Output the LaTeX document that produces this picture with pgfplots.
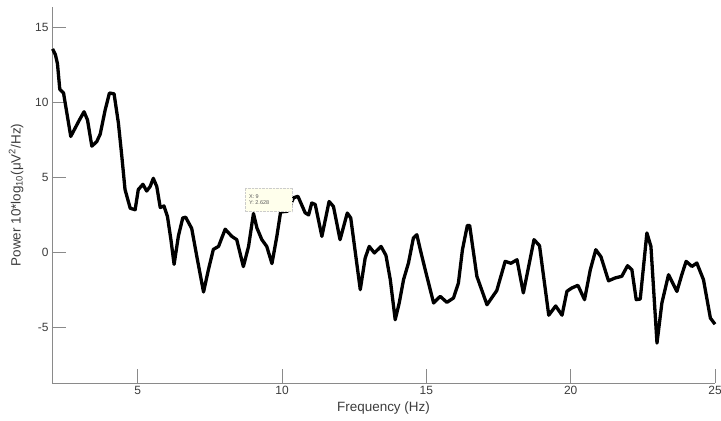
\documentclass[border=0pt]{standalone}
\usepackage{pgfplots}
\pgfplotsset{compat=1.18}
\usepackage{fontspec}
\setmainfont{Liberation Sans}
\definecolor{axgray}{HTML}{8A8A8A}
\definecolor{txtgray}{HTML}{3C3C3C}
\definecolor{tipfill}{HTML}{FFFFEC}

\begin{document}
\begin{tikzpicture}
\useasboundingbox (-52bp,-38bp) rectangle (669bp,383bp);
\begin{axis}[
    scale only axis,
    width=663bp,
    height=376bp,
    xmin=2.03, xmax=25,
    ymin=-8.73, ymax=16.4,
    axis x line*=bottom,
    axis y line*=left,
    axis line style={axgray, line width=0.9pt, -},
    tick style={axgray, line width=0.9pt},
    tick align=inside,
    major tick length=14bp,
    xtick={5,10,15,20,25},
    ytick={-5,0,5,10,15},
    ticklabel style={font=\fontsize{12}{12}\selectfont, text=txtgray},
    /pgf/number format/assume math mode=true,
    xlabel={Frequency (Hz)},
    ylabel={Power 10*log\textsubscript{10}(μV\textsuperscript{2}/Hz)},
    label style={font=\fontsize{13.5}{14}\selectfont, text=txtgray},
    xlabel style={yshift=0bp},
    ylabel style={yshift=5bp},
    clip=false,
]
\addplot[black, line width=3.3bp, line join=round] coordinates {
(2.05,13.6) (2.15,13.2) (2.22,12.6) (2.30,10.9) (2.43,10.65) (2.52,9.6)
(2.68,7.75) (2.83,8.3) (2.98,8.85) (3.14,9.4) (3.26,8.85) (3.41,7.1)
(3.58,7.4) (3.70,7.9) (3.87,9.5) (4.02,10.65) (4.18,10.6) (4.33,8.65)
(4.45,6.4) (4.56,4.2) (4.74,2.95) (4.91,2.85) (5.02,4.2) (5.18,4.55)
(5.31,4.1) (5.43,4.4) (5.54,4.95) (5.66,4.4) (5.78,3.0) (5.91,3.1)
(6.03,2.4) (6.15,0.85) (6.26,-0.8) (6.41,1.1) (6.56,2.3) (6.66,2.35)
(6.87,1.6) (7.05,-0.3) (7.28,-2.65) (7.45,-1.15) (7.62,0.2) (7.80,0.4)
(8.03,1.55) (8.26,1.07) (8.43,0.85) (8.66,-0.95) (8.84,0.4) (9.01,2.6)
(9.13,1.63) (9.30,0.85) (9.47,0.4) (9.65,-0.75) (9.82,1.07) (9.95,2.7)
(10.19,2.75) (10.40,3.65) (10.55,3.75) (10.80,2.65) (10.92,2.5) (11.03,3.3)
(11.15,3.2) (11.38,1.07) (11.63,3.4) (11.78,3.07) (12.01,0.85) (12.26,2.63)
(12.38,2.3) (12.71,-2.49) (12.88,-0.38) (13.02,0.40) (13.20,-0.04) (13.43,0.40)
(13.60,-0.2) (13.75,-1.82) (13.92,-4.5) (14.06,-3.38) (14.21,-1.82) (14.38,-0.71)
(14.55,0.96) (14.67,1.18) (14.79,0.18) (14.96,-1.16) (15.25,-3.38) (15.48,-2.94)
(15.71,-3.34) (15.94,-3.05) (16.11,-2.05) (16.25,0.18) (16.42,1.8) (16.50,1.8)
(16.75,-1.6) (17.10,-3.5) (17.44,-2.55) (17.73,-0.6) (17.93,-0.73) (18.14,-0.49)
(18.36,-2.71) (18.73,0.85) (18.92,0.45) (19.24,-4.2) (19.48,-3.58) (19.70,-4.2)
(19.87,-2.6) (20.04,-2.38) (20.25,-2.2) (20.48,-3.16) (20.68,-1.16) (20.87,0.18)
(21.05,-0.3) (21.31,-1.9) (21.54,-1.71) (21.77,-1.60) (21.97,-0.89) (22.12,-1.16)
(22.27,-3.16) (22.41,-3.12) (22.64,1.30) (22.78,0.40) (22.99,-6.06) (23.16,-3.38)
(23.39,-1.49) (23.68,-2.61) (23.85,-1.49) (24.00,-0.60) (24.20,-0.94) (24.37,-0.71)
(24.60,-1.82) (24.84,-4.39) (25.0,-4.8)
};
% data tip
\draw[gray!40, fill=tipfill, densely dotted] (axis cs:8.72,2.72) rectangle (axis cs:10.35,4.32);
\node[anchor=west, font=\fontsize{5.5}{6.5}\selectfont, text=gray!70!black, align=left, inner sep=0pt]
    at (axis cs:8.85,3.52) {X: 9\\Y: 2.628};
\end{axis}
\end{tikzpicture}
\end{document}
